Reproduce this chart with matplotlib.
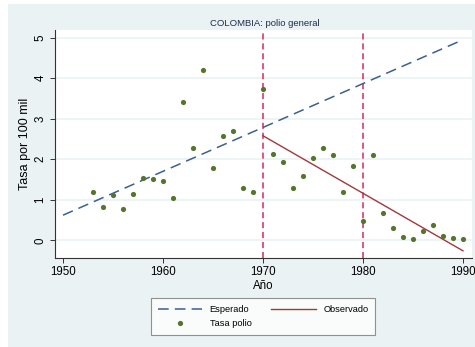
import numpy as np
import matplotlib.pyplot as plt
from matplotlib.patches import Rectangle
from matplotlib.lines import Line2D

plt.rcParams['font.family'] = ['Liberation Sans', 'DejaVu Sans']

# polio rate per 100k, Colombia
years = np.arange(1953, 1991)
tasa = [1.19, 0.82, 1.13, 0.77, 1.15, 1.53, 1.51, 1.46, 1.04, 3.42,
        2.27, 4.20, 1.79, 2.57, 2.70, 1.29, 1.18, 3.73, 2.13, 1.92,
        1.28, 1.59, 2.04, 2.29, 2.11, 1.20, 1.83, 0.48, 2.11, 0.67,
        0.31, 0.07, 0.03, 0.23, 0.38, 0.11, 0.05, 0.02]

# fitted trends
esp_x = [1950, 1990]
esp_y = [0.62, 4.95]
obs_x = [1970, 1990]
obs_y = [2.58, -0.26]

cortes = [1970, 1980]

bg = '#EAF2F3'
fig = plt.figure(figsize=(4.75, 3.47), dpi=100)
fig.patch.set_facecolor('white')
fig.patches.append(Rectangle((8 / 475, 0), 1, 1 - 4 / 347, transform=fig.transFigure,
                             facecolor=bg, edgecolor='none', zorder=-10))

ax = fig.add_axes([55 / 475, 1 - 258 / 347, (472 - 55) / 475, (258 - 30) / 347])
ax.set_facecolor('white')

ax.grid(axis='y', color=bg, linewidth=1.2, zorder=0)
for c in cortes:
    ax.axvline(c, color='#D42A5B', linestyle=(0, (4, 2.5)), linewidth=1.1, zorder=2)

l1, = ax.plot(esp_x, esp_y, color='#3A6090', linestyle=(0, (7, 4)), linewidth=1.1, zorder=3)
l2, = ax.plot(obs_x, obs_y, color='#A0393F', linewidth=1.0, zorder=3)
pts = ax.scatter(years, tasa, s=14, color='#55752F', zorder=4, linewidths=0)

ax.set_xlim(1949.2, 1990.9)
ax.set_ylim(-0.437, 5.19)
ax.set_xticks([1950, 1960, 1970, 1980, 1990])
ax.set_yticks([0, 1, 2, 3, 4, 5])
for s in ['top', 'right']:
    ax.spines[s].set_visible(False)
for s in ['left', 'bottom']:
    ax.spines[s].set_color('#333333')
    ax.spines[s].set_linewidth(0.8)
ax.tick_params(length=3.6, width=0.7, color='#333333', labelsize=8.3, pad=2.5)
plt.setp(ax.get_yticklabels(), rotation=90, va='center')

ax.set_xlabel('Año', fontsize=8.3, labelpad=1)
ax.set_ylabel('Tasa por 100 mil', fontsize=9, labelpad=2.5)
fig.text(265 / 475, 1 - 23 / 347, 'COLOMBIA: polio general', fontsize=6.8,
         ha='center', va='center', color='#1E2D4A')

h_pts = Line2D([], [], linestyle='none', marker='o', markersize=3.8,
               markerfacecolor='#55752F', markeredgewidth=0)
leg = fig.legend([l1, h_pts, l2], ['Esperado', 'Tasa polio', 'Observado'],
                 ncol=2, loc='center', bbox_to_anchor=(263 / 475, 1 - 316.5 / 347),
                 fontsize=6.7, frameon=True, fancybox=False, edgecolor='#777777',
                 handlelength=4.8, columnspacing=2.1, labelspacing=0.55,
                 borderpad=0.7, handletextpad=0.8)
leg.get_frame().set_linewidth(0.8)

fig.savefig('out.png', dpi=100, facecolor=fig.get_facecolor())
